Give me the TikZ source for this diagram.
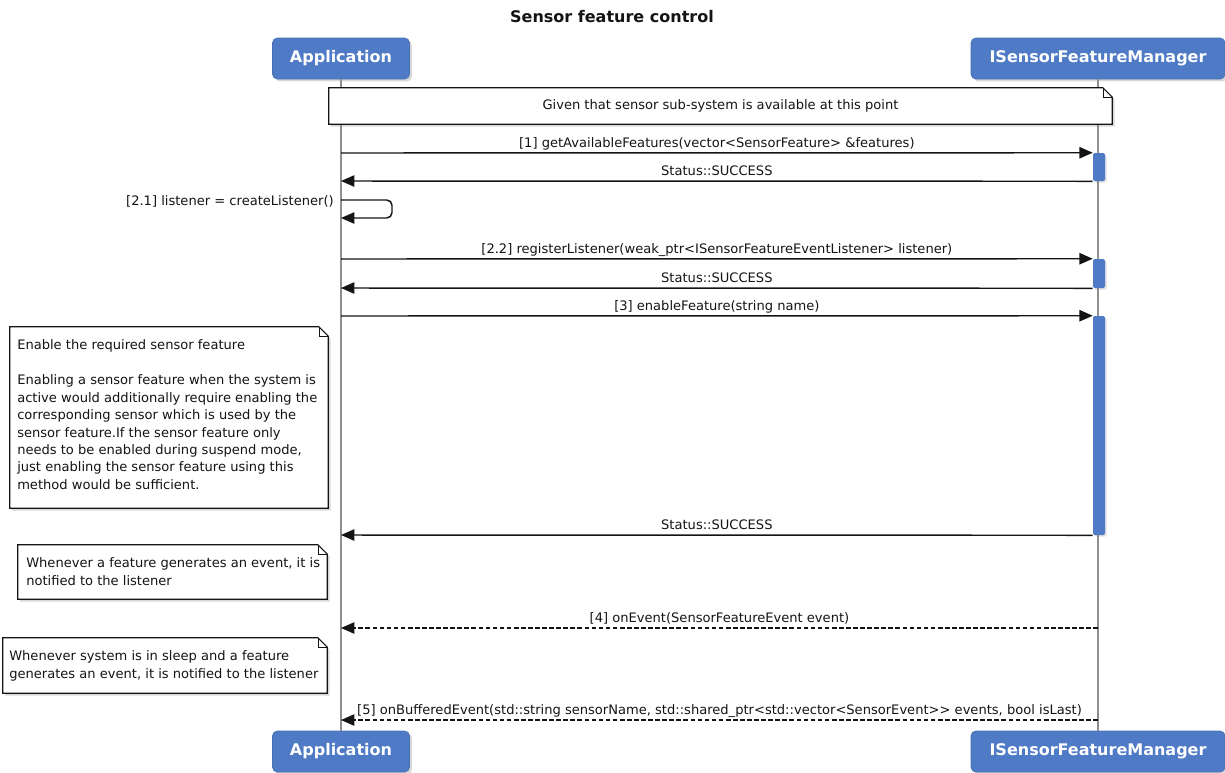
\documentclass[tikz,border=0pt]{standalone}
\usepackage{fontspec}
\setmainfont{DejaVu Sans}
\usepackage{xcolor}
\usepackage{tikz}
\usetikzlibrary{positioning, arrows.meta, shadows}
\definecolor{pBlue}{HTML}{4F7BC6}
\definecolor{pLife}{HTML}{8F8F8F}
\definecolor{pInk}{HTML}{141414}
\tikzset{
  partbox/.style={rectangle, rounded corners=3.5pt, fill=pBlue, draw=pBlue!90!black,
    line width=0.4pt, minimum height=30.75pt, inner sep=0pt, text=white,
    font=\bfseries\fontsize{12}{14}\selectfont,
    drop shadow={shadow xshift=1.8pt, shadow yshift=-1.8pt, opacity=0.3}},
  actbar/.style={rectangle, rounded corners=1.5pt, fill=pBlue, draw=none,
    minimum width=9pt, inner sep=0pt,
    drop shadow={shadow xshift=1.2pt, shadow yshift=-1.2pt, opacity=0.25}},
  lifeline/.style={draw=pLife, line width=0.8pt},
  msg/.style={draw=pInk, line width=1.1pt, -{Triangle[length=10pt, width=8.5pt]}},
  retmsg/.style={msg, dash pattern=on 3.5pt off 1.8pt},
  msglabel/.style={font=\fontsize{9.8}{12}\selectfont, text=pInk, inner sep=0pt,
    anchor=base, yshift=4pt},
  notebody/.style={rectangle, fill=white, draw=none, inner sep=0pt},
  noteline/.style={draw=pInk, line width=0.8pt, line join=miter},
  notetext/.style={font=\fontsize{9.8}{13.1}\selectfont, text=pInk, align=left,
    inner sep=0pt, anchor=north west},
}

\begin{document}
\begin{tikzpicture}[x=0.75pt, y=-0.75pt]
  \useasboundingbox (0,0) rectangle (1225,772);
  \node[font=\bfseries\fontsize{12}{14}\selectfont, text=pInk] (title) at (612,17) {Sensor feature control};

  % participants
  \node[partbox, minimum width=102.75pt] (appTop) at (341,58.5) {Application};
  \node[partbox, minimum width=190.5pt] (mgrTop) at (1098,58.5) {ISensorFeatureManager};
  \node[partbox, minimum width=102.75pt] (appBot) at (341,751.5) {Application};
  \node[partbox, minimum width=190.5pt] (mgrBot) at (1098,751.5) {ISensorFeatureManager};
  \draw[lifeline] (appTop.south) -- (appBot.north);
  \draw[lifeline] (mgrTop.south) -- (mgrBot.north);

  % activation bars
  \node[actbar, minimum height=21pt] (bar1) at (1099,167) {};
  \node[actbar, minimum height=21.75pt] (bar2) at (1099,273.5) {};
  \node[actbar, minimum height=164.25pt] (bar3) at (1099,425.5) {};

  % notes
  \node[notebody, minimum width=587.25pt, minimum height=27pt] (nTop) at (720.5,106) {};
  \node[notebody, minimum width=238.5pt, minimum height=135.75pt] (nEnable) at (169,417.5) {};
  \node[notebody, minimum width=231.75pt, minimum height=40.5pt] (nEvent) at (172.5,572) {};
  \node[notebody, minimum width=243pt, minimum height=41.25pt] (nSleep) at (165,665.5) {};
  \foreach \n in {nTop,nEnable,nEvent,nSleep} {
    \draw[noteline, fill=white, drop shadow={shadow xshift=1.8pt, shadow yshift=-1.8pt, opacity=0.3}]
      (\n.north west) -- ([xshift=-7pt]\n.north east) -- ([yshift=-7pt]\n.north east)
      -- (\n.south east) -- (\n.south west) -- cycle;
    \draw[noteline, line width=0.6pt] ([xshift=-7pt]\n.north east) -- ([xshift=-7pt, yshift=-7pt]\n.north east)
      -- ([yshift=-7pt]\n.north east);
  }
  \node[font=\fontsize{9.8}{12}\selectfont, text=pInk] (nTopText) at (nTop) {Given that sensor sub-system is available at this point};
  \node[notetext] (nEnableText) at (17,339.5) {Enable the required sensor feature\\[13.1pt]
    Enabling a sensor feature when the system is\\
    active would additionally require enabling the\\
    corresponding sensor which is used by the\\
    sensor feature.If the sensor feature only\\
    needs to be enabled during suspend mode,\\
    just enabling the sensor feature using this\\
    method would be sufficient.};
  \node[notetext] (nEventText) at (26,557.5) {Whenever a feature generates an event, it is\\
    notified to the listener};
  \node[notetext] (nSleepText) at (9,650.5) {Whenever system is in sleep and a feature\\
    generates an event, it is notified to the listener};

  % message ends on the lifelines
  \coordinate (a1) at (341,153);
  \coordinate (a2) at (341,181);
  \coordinate (s1) at (341,200);
  \coordinate (s2) at (392,200);
  \coordinate (s3) at (392,218);
  \coordinate (s4) at (341,218);
  \coordinate (a3) at (341,259);
  \coordinate (a4) at (341,288);
  \coordinate (a5) at (341,316);
  \coordinate (a6) at (341,535);
  \coordinate (a7) at (341,628);
  \coordinate (m7) at (1098,628);
  \coordinate (a8) at (341,720);
  \coordinate (m8) at (1098,720);

  \draw[msg] (a1) -- node[msglabel] {[1] getAvailableFeatures(vector<SensorFeature> \&features)} (bar1.north west);
  \draw[msg] (bar1.south west) -- node[msglabel] {Status::SUCCESS} (a2);
  \draw[msg, rounded corners=4pt] (s1) -- (s2) -- (s3) -- (s4);
  \node[font=\fontsize{9.8}{12}\selectfont, text=pInk, anchor=base east, inner sep=0pt] (selfLabel) at (334,205) {[2.1] listener = createListener()};
  \draw[msg] (a3) -- node[msglabel] {[2.2] registerListener(weak\_ptr<ISensorFeatureEventListener> listener)} (bar2.north west);
  \draw[msg] (bar2.south west) -- node[msglabel] {Status::SUCCESS} (a4);
  \draw[msg] (a5) -- node[msglabel] {[3] enableFeature(string name)} (bar3.north west);
  \draw[msg] (bar3.south west) -- node[msglabel] {Status::SUCCESS} (a6);
  \draw[retmsg] (m7) -- node[msglabel] {[4] onEvent(SensorFeatureEvent event)} (a7);
  \draw[retmsg] (m8) -- node[msglabel] {[5] onBufferedEvent(std::string sensorName, std::shared\_ptr<std::vector<SensorEvent>{}> events, bool isLast)} (a8);
\end{tikzpicture}
\end{document}
